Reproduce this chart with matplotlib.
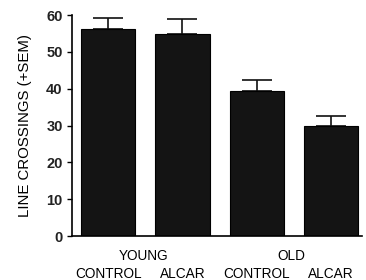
import matplotlib
matplotlib.use("Agg")
import matplotlib.pyplot as plt
import matplotlib.transforms as mtransforms

groups = ["YOUNG", "OLD"]
conditions = ["CONTROL", "ALCAR", "CONTROL", "ALCAR"]
means = [56.2, 54.8, 39.4, 29.9]
sems = [3.0, 4.2, 3.0, 2.8]
yticks = [0, 10, 20, 30, 40, 50, 60]

plt.rcParams['font.family'] = ['Liberation Sans', 'DejaVu Sans']
fig = plt.figure(figsize=(3.66, 2.8), dpi=100)
ax = fig.add_axes([0.196, 0.157, 0.794, 0.789])

x = list(range(len(means)))
ax.bar(x, means, width=0.73, color="#141414", edgecolor="#000000", linewidth=0.8, zorder=2)
ax.errorbar(x, means, yerr=[[0]*len(sems), sems], fmt="none", ecolor="#111111",
            elinewidth=1.2, capsize=10.5, capthick=1.2, zorder=1)

ax.set_xlim(-0.49, 3.42)
ax.set_ylim(0, 60)
ax.set_yticks(yticks)
ax.set_yticklabels([str(t) for t in yticks], fontsize=10.5, fontweight="bold", color="#222222")
ax.set_xticks(x)
ax.set_xticklabels(conditions, fontsize=9.8)
ax.tick_params(axis='x', length=0, pad=22)
ax.tick_params(axis='y', direction='out', length=3.5, width=1, pad=3)
for s in ["top", "right"]:
    ax.spines[s].set_visible(False)
ax.spines["left"].set_linewidth(1.2)
ax.spines["bottom"].set_linewidth(1.2)
ax.set_ylabel("LINE CROSSINGS (+SEM)", fontsize=10.8, labelpad=10)

trans = mtransforms.blended_transform_factory(ax.transData, ax.transAxes)
ax.text(0.47, -0.06, groups[0], transform=trans, ha="center", va="top", fontsize=9.8)
ax.text(2.47, -0.06, groups[1], transform=trans, ha="center", va="top", fontsize=9.8)

fig.savefig("out.png", dpi=100)
